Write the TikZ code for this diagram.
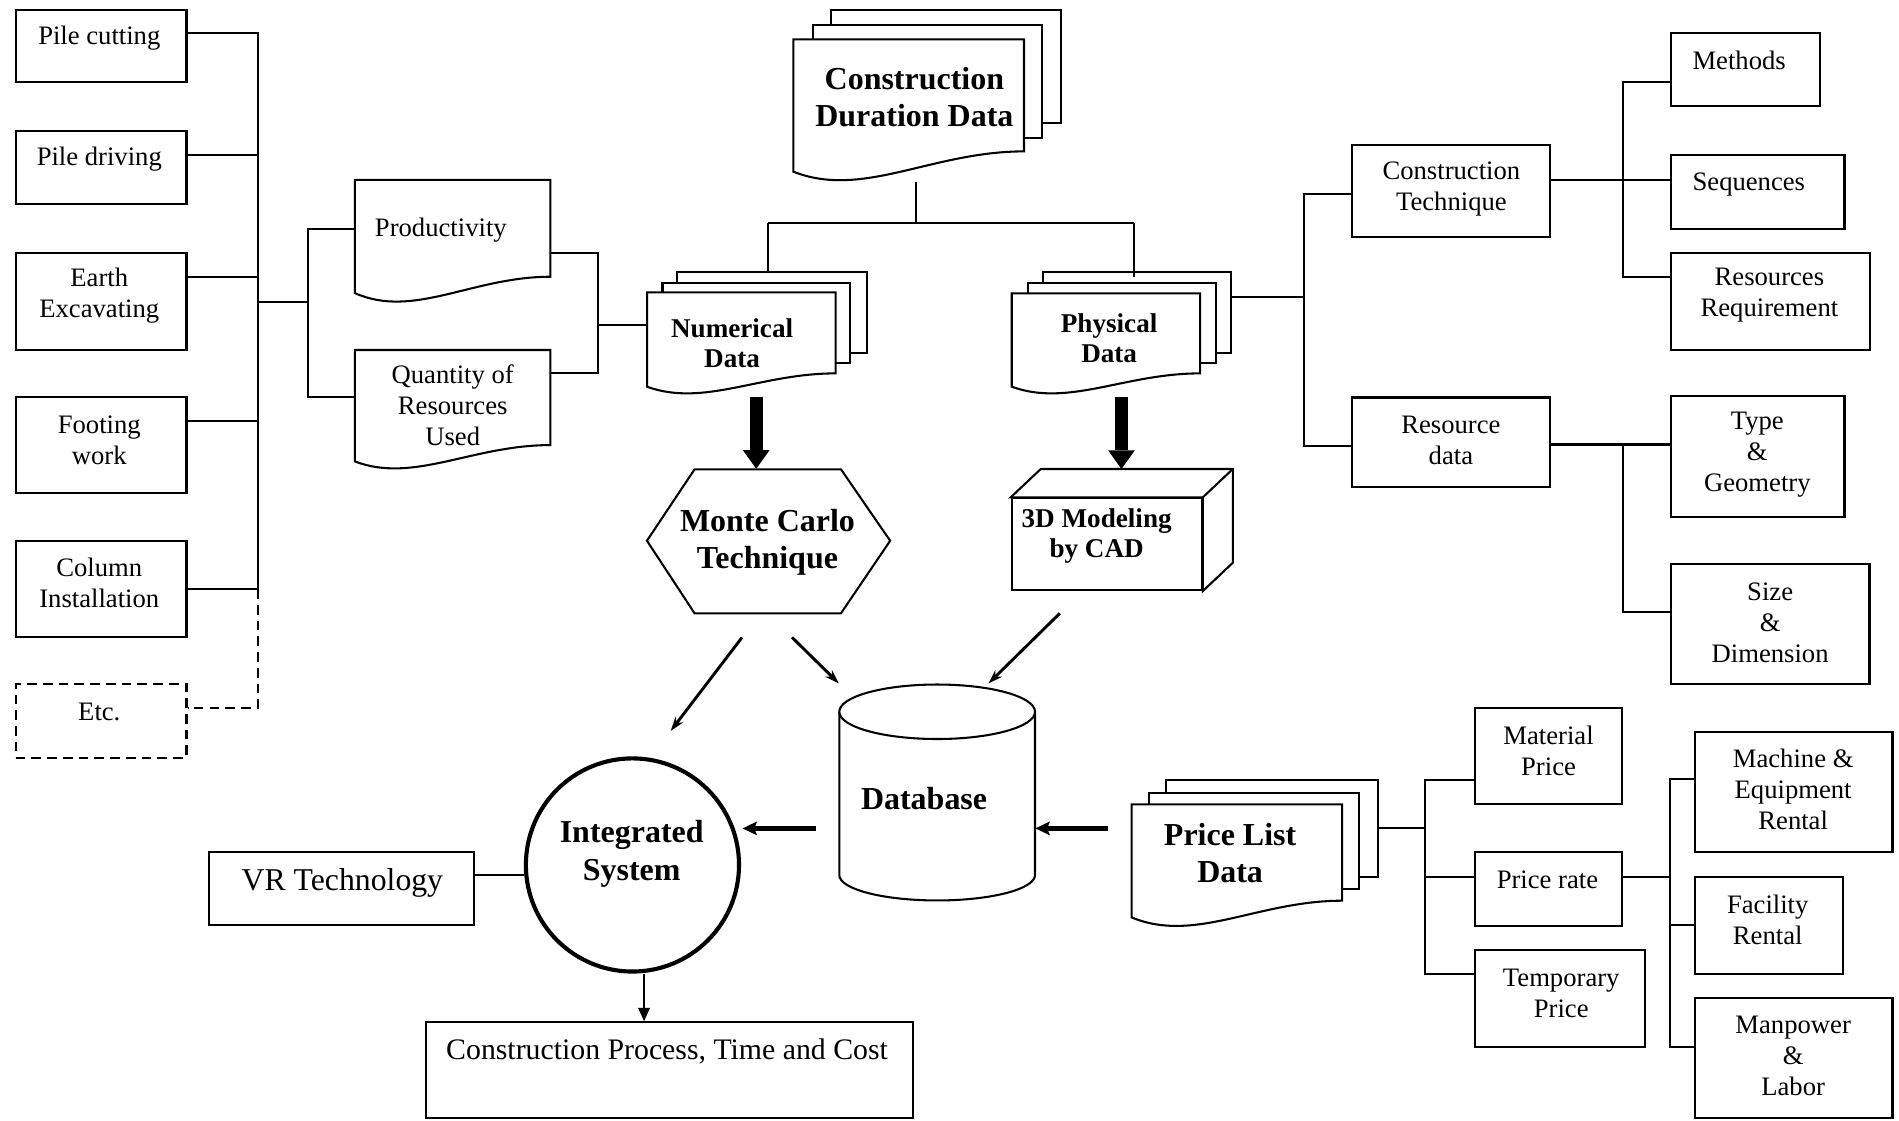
\documentclass[tikz,border=0pt]{standalone}
\usepackage{fontspec}
\setmainfont{Liberation Serif}
\usetikzlibrary{fit,calc,arrows.meta}
% front page of a document stack: x1, x2, top, left bottom, right bottom, wave depth
\newcommand\docfront[6]{%
  \draw[line, fill=white] (#1,#3) -- (#2,#3) -- (#2,#5)
    .. controls ({#1+0.6*(#2-#1)},#5) and ({#1+0.3*(#2-#1)},{#4+#6}) .. (#1,#4) -- cycle;}
\begin{document}
\begin{tikzpicture}[x=0.5pt,y=-0.5pt,
  line/.style={line width=0.85pt, line join=miter},
  box/.style={draw, line width=0.85pt, fill=white, inner sep=0pt},
  dbox/.style={box, dash pattern=on 4pt off 2.5pt},
  sheet/.style={draw, line width=0.85pt, fill=white, inner sep=0pt},
  area/.style={inner sep=0pt},
  conn/.style={line width=0.85pt},
  rtxt/.style={align=center, inner sep=0pt, font=\fontsize{11}{12.8}\selectfont},
  btxt/.style={align=center, inner sep=0pt, font=\bfseries\fontsize{13.2}{15.4}\selectfont},
  mtxt/.style={align=center, inner sep=0pt, font=\bfseries\fontsize{11.2}{12.5}\selectfont},
  fatarrow/.style={line width=5.5pt, -{Triangle[length=7.7pt,width=11pt,line width=0pt]}},
  midarrow/.style={line width=1.8pt, -{Stealth[length=6pt,width=5.8pt,inset=1.2pt,line width=0pt]}},
  thinarrow/.style={line width=1.2pt, -{Stealth[length=6pt,width=4pt,line width=0pt]}},
  outarrow/.style={line width=0.85pt, -{Triangle[length=5.5pt,width=5pt,line width=0pt]}},
]
\fill[white] (0,0) rectangle (1568,925);
\useasboundingbox (0,0) rectangle (1568,925);

% ---------- activity boxes on the left ----------
\node[box, fit={(13,8)(154,68)}] (pc) {};
\node[rtxt] (pc-t) at (82,31.6) {Pile cutting};
\node[box, fit={(13,108)(154,168.5)}] (pd) {};
\node[rtxt] (pd-t) at (82,131.6) {Pile driving};
\node[box, fit={(13,209)(154,289)}] (ee) {};
\node[rtxt] (ee-t) at (82,244) {Earth\\Excavating};
\node[box, fit={(13,328)(154,407)}] (fw) {};
\node[rtxt] (fw-t) at (82,363.3) {Footing\\work};
\node[box, fit={(13,447)(154,526)}] (ci) {};
\node[rtxt] (ci-t) at (82,481.5) {Column\\Installation};
\node[dbox, fit={(13,565)(154,625.5)}] (etc) {};
\node[rtxt] (etc-t) at (82,587.7) {Etc.};

\coordinate (b1) at (213,27.5);
\coordinate (b2) at (213,128);
\coordinate (b3) at (213,228.5);
\coordinate (b4) at (213,348);
\coordinate (b5) at (213,486.5);
\coordinate (b6) at (213,584.5);
\coordinate (bm) at (213,249);
\coordinate (km) at (254,249);
\coordinate (k1) at (254,189);
\coordinate (k2) at (254,327.5);
\draw[conn] (b1 -| pc.east) -- (b1) -- (b5);
\draw[conn] (b2 -| pd.east) -- (b2);
\draw[conn] (b3 -| ee.east) -- (b3);
\draw[conn] (b4 -| fw.east) -- (b4);
\draw[conn] (b5 -| ci.east) -- (b5);
\draw[conn, dash pattern=on 4pt off 2.5pt] (b5) -- (b6) -- (b6 -| etc.east);
\draw[conn] (bm) -- (km);

% ---------- productivity and quantity documents ----------
\docfront{293}{454.5}{148.6}{242}{228.5}{21.6}
\node[area, fit={(293,148.6)(454.5,242)}] (prod) {};
\node[rtxt] (prod-t) at (364,190) {Productivity};
\docfront{293}{454.5}{289}{381}{367.5}{18.5}
\node[area, fit={(293,289)(454.5,381)}] (qty) {};
\node[rtxt] (qty-t) at (373.8,334.4) {Quantity of\\Resources\\Used};
\draw[conn] (k1 -| prod.west) -- (k1) -- (k2) -- (k2 -| qty.west);

\coordinate (r1) at (494,209);
\coordinate (r2) at (494,308);
\coordinate (rm) at (494,268.4);
\draw[conn] (r1 -| prod.east) -- (r1) -- (r2) -- (r2 -| qty.east);

% ---------- construction duration data ----------
\node[sheet, fit={(686.5,8.3)(875.8,101.8)}] (cdd3) {};
\node[sheet, fit={(671,20.6)(860,114.2)}] (cdd2) {};
\docfront{655}{845.5}{32.5}{141.7}{125}{22.8}
\node[area, fit={(655,32.5)(845.5,141.7)}] (cdd) {};
\node[btxt] (cdd-t) at (755,80) {Construction\\Duration Data};

% ---------- numerical data ----------
\node[sheet, fit={(559,224.9)(715.6,291.2)}] (num3) {};
\node[sheet, fit={(547,233.4)(702,300)}] (num2) {};
\docfront{534.3}{690}{241.4}{319.3}{308.3}{17.1}
\node[area, fit={(534.3,241.4)(690,319.3)}] (num) {};
\node[mtxt] (num-t) at (604.5,283.5) {Numerical\\Data};
\draw[conn] (rm) -- (rm -| num.west);

% ---------- physical data ----------
\node[sheet, fit={(861,224.9)(1016.8,291.2)}] (phy3) {};
\node[sheet, fit={(849,233.4)(1003.8,300)}] (phy2) {};
\docfront{835.4}{991}{242.2}{319.3}{308.3}{17.1}
\node[area, fit={(835.4,242.2)(991,319.3)}] (phy) {};
\node[mtxt] (phy-t) at (915.8,279.4) {Physical\\Data};

\coordinate (cddfoot) at (756,150);
\coordinate (c1) at (756,184);
\coordinate (c2) at (634.5,184);
\coordinate (c3) at (936.4,184);
\draw[conn] (cddfoot) -- (c1);
\draw[conn] (c2) -- (c3);
\draw[conn] (c2) -- (c2 |- num3.north);
\draw[conn] (c3) -- ($(c3 |- phy3.north)+(0,4.5)$);

% ---------- construction technique / resource data ----------
\node[box, fit={(1116.6,119.4)(1280,196)}] (ct) {};
\node[rtxt] (ct-t) at (1198.4,156) {Construction\\Technique};
\node[box, fit={(1116.6,328.2)(1280,402.5)}] (rd) {};
\node[rtxt] (rd-t) at (1198,363.5) {Resource\\data};

\coordinate (p1) at (1076.8,245);
\coordinate (p2) at (1076.8,160);
\coordinate (p3) at (1076.8,368);
\draw[conn] (p1 -| phy3.east) -- (p1);
\draw[conn] (p2 -| ct.west) -- (p2) -- (p3) -- (p3 -| rd.west);

\node[box, fit={(1380,27.4)(1502.5,87.9)}] (meth) {};
\node[rtxt] (meth-t) at (1436,50) {Methods};
\node[box, fit={(1380,127.7)(1523,188.7)}] (seq) {};
\node[rtxt] (seq-t) at (1444,152) {Sequences};
\node[box, fit={(1380,208.8)(1543.8,289)}] (rr) {};
\node[rtxt] (rr-t) at (1461,244) {Resources\\Requirement};
\node[box, fit={(1380,327.3)(1523,426.7)}] (type) {};
\node[rtxt] (type-t) at (1451,375.7) {Type\\\&\\Geometry};
\node[box, fit={(1380,466)(1543.6,564.8)}] (size) {};
\node[rtxt] (size-t) at (1461.6,514) {Size\\\&\\Dimension};

\coordinate (q0) at (1340.2,67.8);
\coordinate (q1) at (1340.2,149);
\coordinate (q2) at (1340.2,228.5);
\draw[conn] (q1 -| ct.east) -- (q1 -| seq.west);
\draw[conn] (q0 -| meth.west) -- (q0) -- (q2) -- (q2 -| rr.west);
\coordinate (s1) at (1340.2,367);
\coordinate (s2) at (1340.2,505);
\draw[conn] (s1 -| rd.east) -- (s1 -| type.west);
\draw[conn] (s1) -- (s2) -- (s2 -| size.west);

% ---------- Monte Carlo hexagon ----------
\draw[line, fill=white] (573.5,387.5) -- (694.4,387.5) -- (735,446.5) -- (694.4,506.4)
  -- (573.5,506.4) -- (534.2,446.5) -- cycle;
\node[area, fit={(534.2,387.5)(735,506.4)}] (mc) {};
\node[btxt] (mc-t) at (633.7,448) {Monte Carlo\\Technique};

% ---------- 3D modelling block ----------
\node[box, fit={(835.4,411.5)(992.3,487.2)}] (cad) {};
\coordinate (cadback) at ($(cad.north west)+(24.8,-23.4)$);
\draw[line, fill=white] (cad.north west) -- (cadback) -- ($(cad.north east)+(24.8,-23.4)$)
  -- ($(cad.south east)+(24.8,-23.4)$) -- (cad.south east) -- (cad.north east) -- cycle;
\draw[line] (cad.north east) -- ($(cad.north east)+(24.8,-23.4)$);
\node[mtxt] (cad-t) at (905.5,442.5) {3D Modeling\\by CAD};

\coordinate (nf) at (624.4,328);
\coordinate (pf) at (926,328);
\draw[fatarrow] (nf) -- (nf |- mc.north);
\draw[fatarrow] (pf) -- (pf |- cadback);

% ---------- database ----------
\node[area, fit={(693,564.8)(854.6,743.2)}] (db) {};
\draw[line, fill=white] (693,587.7) -- (693,722.5)
  arc[start angle=180, end angle=0, x radius=80.8, y radius=21] -- (854.6,587.7);
\draw[line, fill=white] (773.8,587.7) ellipse[x radius=80.8, y radius=22.5];
\node[btxt] (db-t) at (763,659.2) {Database};

% ---------- integrated system ----------
\node[draw, circle, line width=1.7pt, minimum size=88pt, inner sep=0pt] (is) at (522.2,714.2) {};
\node[btxt] (is-t) at (521.6,705) {Integrated\\System};

\node[box, fit={(172.6,703.3)(391.6,763.8)}] (vr) {};
\node[align=center, inner sep=0pt, font=\fontsize{13.1}{15}\selectfont] (vr-t) at (282.7,729.4) {VR Technology};
\coordinate (vrj) at (432.8,722.5);
\draw[conn] (vrj -| vr.east) -- (vrj);

\node[box, fit={(351.5,844)(753.9,923.5)}] (out) {};
\node[align=center, inner sep=0pt, font=\fontsize{12.3}{14}\selectfont] (out-t) at (550.8,868.4) {Construction Process, Time and Cost};
\coordinate (isb) at (531.8,804.5);
\draw[outarrow] (isb) -- (isb |- out.north);

% ---------- arrows around the database ----------
\coordinate (a1s) at (612.7,526.3);
\coordinate (a1e) at (553.8,603.5);
\coordinate (a2s) at (654,526.3);
\coordinate (a2e) at (692.6,564.3);
\coordinate (a3s) at (875.1,506.4);
\coordinate (a3e) at (816.2,564.3);
\draw[thinarrow] (a1s) -- (a1e);
\draw[thinarrow] (a2s) -- (a2e);
\draw[thinarrow] (a3s) -- (a3e);

\coordinate (dbl) at (673.8,684);
\coordinate (isr) at (613.2,684);
\draw[midarrow] (dbl) -- (isr);
\coordinate (plf) at (915,684);
\draw[midarrow] (plf) -- (plf -| db.east);

% ---------- price list data ----------
\node[sheet, fit={(963,644)(1137.6,723.9)}] (pl3) {};
\node[sheet, fit={(949,655)(1122,734.4)}] (pl2) {};
\docfront{934.4}{1108.2}{664.2}{757.5}{743.7}{21.7}
\node[area, fit={(934.4,664.2)(1108.2,757.5)}] (pl) {};
\node[btxt] (pl-t) at (1015.7,704.2) {Price List\\Data};

\node[box, fit={(1217.6,584.9)(1339.6,664.2)}] (mat) {};
\node[rtxt] (mat-t) at (1278.6,620) {Material\\Price};
\node[box, fit={(1217.6,703.8)(1339.6,764.4)}] (pr) {};
\node[rtxt] (pr-t) at (1277.7,726.7) {Price rate};
\node[box, fit={(1217.6,784.5)(1358.6,864.3)}] (tmp) {};
\node[rtxt] (tmp-t) at (1289.1,820) {Temporary\\Price};

\coordinate (u0) at (1176.7,684);
\coordinate (u1) at (1176.7,644);
\coordinate (u2) at (1176.7,724);
\coordinate (u3) at (1176.7,804.5);
\draw[conn] (u0 -| pl3.east) -- (u0);
\draw[conn] (u1 -| mat.west) -- (u1) -- (u3) -- (u3 -| tmp.west);
\draw[conn] (u2) -- (u2 -| pr.west);

\node[box, fit={(1399.8,604.2)(1562.6,703.8)}] (mach) {};
\node[rtxt] (mach-t) at (1480.6,651.7) {Machine \&\\Equipment\\Rental};
\node[box, fit={(1399.8,724)(1521.5,804.5)}] (fac) {};
\node[rtxt] (fac-t) at (1459.6,759.3) {Facility\\Rental};
\node[box, fit={(1399.8,824.4)(1562.6,923.5)}] (man) {};
\node[rtxt] (man-t) at (1480.6,871.8) {Manpower\\\&\\Labor};

\coordinate (v0) at (1378.7,724);
\coordinate (v1) at (1378.7,643.5);
\coordinate (v2) at (1378.7,763.8);
\coordinate (v3) at (1378.7,864.3);
\draw[conn] (v0 -| pr.east) -- (v0);
\draw[conn] (v1 -| mach.west) -- (v1) -- (v3) -- (v3 -| man.west);
\draw[conn] (v2) -- (v2 -| fac.west);
\end{tikzpicture}
\end{document}
